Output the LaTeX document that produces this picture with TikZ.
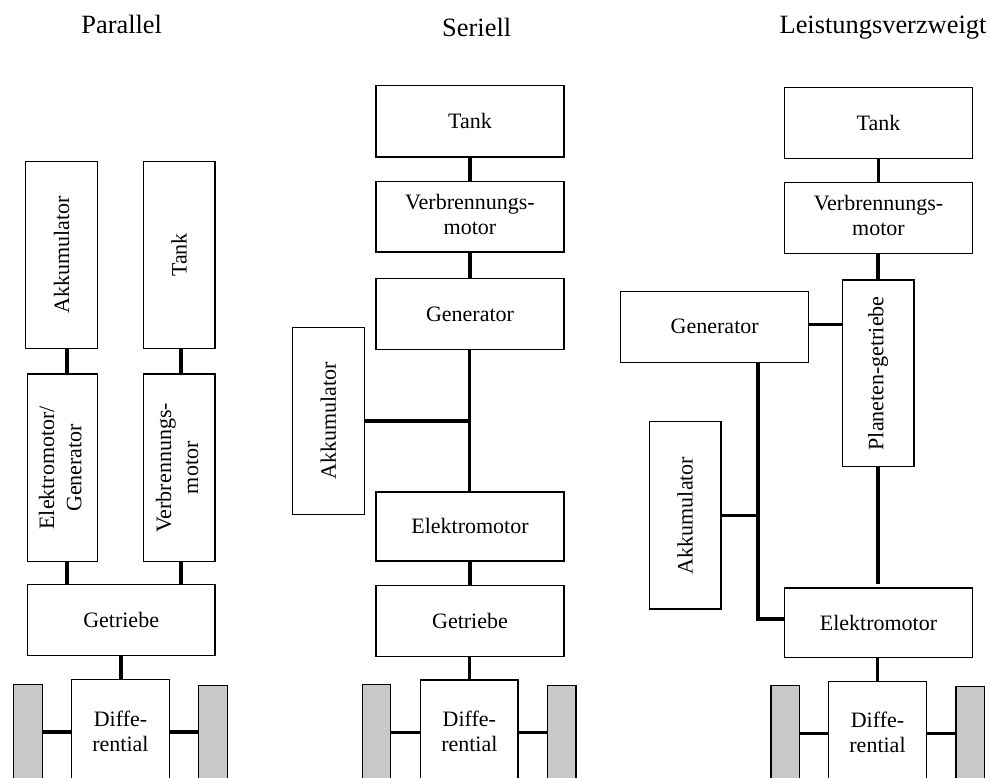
\documentclass[tikz,border=0pt]{standalone}
\usepackage{fontspec}
\usepackage{graphicx}
\setmainfont{Liberation Serif}
\definecolor{wheelgray}{HTML}{C8C8C8}
% vertical box text, and two centred lines with a given line distance
\newcommand{\vt}[1]{\rotatebox{90}{#1}}
\newcommand{\twolines}[3]{{\fontsize{11}{#1}\selectfont\begin{tabular}{@{}c@{}}#2\\#3\end{tabular}}}
\begin{document}
\begin{tikzpicture}[x=0.5pt,y=-0.5pt,
  box/.style={draw=black,line width=0.6pt,fill=white,inner sep=0pt,
    font=\fontsize{11}{12}\selectfont,align=center},
  wheel/.style={draw=black,line width=0.6pt,fill=wheelgray,inner sep=0pt},
  link/.style={line width=1.8pt,line cap=butt},
  label/.style={inner sep=0pt,font=\fontsize{11}{12}\selectfont},
  heading/.style={anchor=base,inner sep=0pt,font=\fontsize{13.2}{15}\selectfont}]
\useasboundingbox (0,0) rectangle (990,777);
\clip (0,0) rectangle (990,777);

% ---------------- Parallel ----------------
\node[heading] (tPar) at (121.7,33) {Parallel};
\node[box,minimum width=35.8pt,minimum height=93.55pt] (pAkku) at (61.5,254.95) {\vt{Akkumulator}};
\node[box,minimum width=35.85pt,minimum height=93.55pt] (pTank) at (179.15,254.95) {\vt{Tank}};
\node[box,minimum width=35.1pt,minimum height=93.8pt] (pEM) at (62.4,467.8) {\vt{\twolines{13.6}{Elektromotor/}{Generator}}};
\node[box,minimum width=35.85pt,minimum height=93.8pt] (pVM) at (179.15,467.8) {\vt{\twolines{13.5}{Verbrennungs-}{motor}}};
\node[box,minimum width=93.85pt,minimum height=35.5pt] (pGetr) at (121.15,619.8) {Getriebe};
\node[box,minimum width=48.8pt,minimum height=70.3pt] (pDiff) at (120.5,749.7) {};
\node[label] (pDiffT) at (120.5,734) {\twolines{12.5}{Diffe-}{rential}};
\node[wheel,minimum width=14.5pt,minimum height=67.9pt] (pWL) at (27.8,752.1) {};
\node[wheel,minimum width=14.3pt,minimum height=67.45pt] (pWR) at (213,752.55) {};
\coordinate (pBus) at (66.7,0);
\coordinate (pAx) at (0,732);
\draw[link] (pAkku.south -| pBus) -- (pEM.north -| pBus);
\draw[link] (pEM.south -| pBus) -- (pGetr.north -| pBus);
\draw[link] ([xshift=0.9pt]pTank.south) -- ([xshift=0.9pt]pVM.north);
\draw[link] ([xshift=0.9pt]pVM.south) -- ([xshift=0.9pt]pVM.south |- pGetr.north);
\draw[link] (pGetr.south) -- (pGetr.south |- pDiff.north);
\draw[link] (pWL.east |- pAx) -- (pDiff.west |- pAx);
\draw[link] (pDiff.east |- pAx) -- (pWR.west |- pAx);

% ---------------- Seriell ----------------
\node[heading] (tSer) at (476.7,36) {Seriell};
\node[box,minimum width=94pt,minimum height=35.55pt] (sTank) at (470,121.35) {Tank};
\node[box,minimum width=94pt,minimum height=35.35pt] (sVM) at (470,216.65) {\twolines{12.6}{Verbrennungs-}{motor}};
\node[box,minimum width=94pt,minimum height=35.4pt] (sGen) at (470,313.9) {Generator};
\node[box,minimum width=36pt,minimum height=93.3pt] (sAkku) at (328.3,420.9) {\vt{Akkumulator}};
\node[box,minimum width=94pt,minimum height=34.45pt] (sEM) at (470,526.45) {Elektromotor};
\node[box,minimum width=94pt,minimum height=35.55pt] (sGetr) at (470,620.85) {Getriebe};
\node[box,minimum width=48.65pt,minimum height=70pt] (sDiff) at (469.35,750) {};
\node[label] (sDiffT) at (469.35,734) {\twolines{12.5}{Diffe-}{rential}};
\node[wheel,minimum width=14.2pt,minimum height=67.8pt] (sWL) at (376.5,752.2) {};
\node[wheel,minimum width=14.35pt,minimum height=67.35pt] (sWR) at (561.65,752.65) {};
\coordinate (sJ) at (469.3,420.9);
\coordinate (sAx) at (0,732.4);
\draw[link] (sTank.south) -- (sVM.north);
\draw[link] (sVM.south) -- (sGen.north);
\draw[link] (sGen.south -| sJ) -- (sEM.north -| sJ);
\draw[link] (sAkku.east |- sJ) -- (sJ);
\draw[link] (sEM.south) -- (sGetr.north);
\draw[link] (sGetr.south -| sDiff.north) -- (sDiff.north);
\draw[link] (sWL.east |- sAx) -- (sDiff.west |- sAx);
\draw[link] (sDiff.east |- sAx) -- (sWR.west |- sAx);

% ---------------- Leistungsverzweigt ----------------
\node[heading] (tLv) at (883,33) {Leistungsverzweigt};
\node[box,minimum width=93.8pt,minimum height=35.8pt] (lTank) at (878.5,122.9) {Tank};
\node[box,minimum width=93.8pt,minimum height=35.55pt] (lVM) at (878.5,217.75) {\twolines{12.6}{Verbrennungs-}{motor}};
\node[box,minimum width=35.85pt,minimum height=93.35pt] (lPG) at (878.15,373.35) {\vt{Planeten-getriebe}};
\node[box,minimum width=94pt,minimum height=35.55pt] (lGen) at (714.7,326.65) {Generator};
\node[box,minimum width=35.85pt,minimum height=93.55pt] (lAkku) at (685.15,515.35) {\vt{Akkumulator}};
\node[box,minimum width=93.8pt,minimum height=34.9pt] (lEM) at (878.5,622.9) {Elektromotor};
\node[box,minimum width=48.8pt,minimum height=69.35pt] (lDiff) at (877.5,750.65) {};
\node[label] (lDiffT) at (877.5,735) {\twolines{12.5}{Diffe-}{rential}};
\node[wheel,minimum width=14.15pt,minimum height=67.1pt] (lWL) at (785.15,752.9) {};
\node[wheel,minimum width=14.15pt,minimum height=66.65pt] (lWR) at (970.15,753.35) {};
\coordinate (lJ) at (758,619.1);
\coordinate (lAx) at (0,733.3);
\draw[link] (lTank.south) -- (lVM.north);
\draw[link] (lVM.south -| lPG.north) -- (lPG.north);
\draw[link,shorten >=1.6pt] (lPG.south) -- (lPG.south |- lEM.north);
\draw[link] ([yshift=1.1pt]lGen.east) -- ([yshift=1.1pt]lGen.east -| lPG.west);
\draw[link] (lGen.south -| lJ) -- (lJ) -- (lEM.west |- lJ);
\draw[link] (lAkku.east) -- (lAkku.east -| lJ);
\draw[link] (lEM.south -| lDiff.north) -- (lDiff.north);
\draw[link] (lWL.east |- lAx) -- (lDiff.west |- lAx);
\draw[link] (lDiff.east |- lAx) -- (lWR.west |- lAx);
\end{tikzpicture}
\end{document}
